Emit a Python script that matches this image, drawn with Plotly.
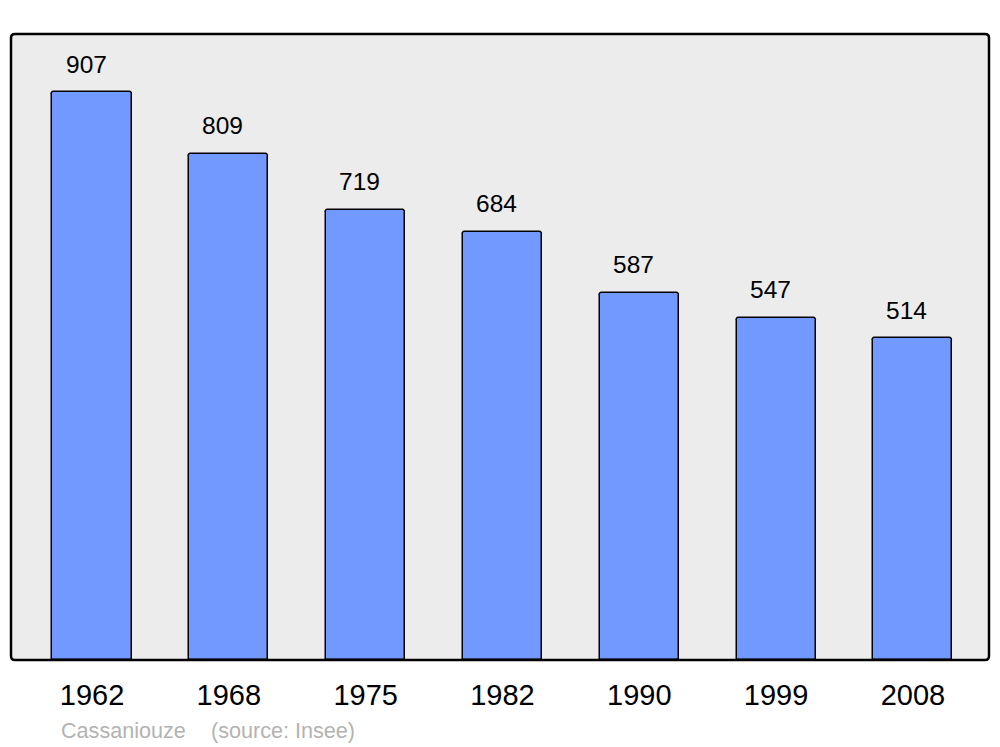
import plotly.graph_objects as go

years = ["1962", "1968", "1975", "1982", "1990", "1999", "2008"]
population = [907, 809, 719, 684, 587, 547, 514]
commune = "Cassaniouze"
source = "(source: Insee)"

W, H = 1000, 747
ml, mr, mt, mb = 11, 11, 34, 87
pw, ph = W - ml - mr, H - mt - mb
FONT = "Liberation Sans, Arial, sans-serif"

xs = list(range(len(years)))

fig = go.Figure()
fig.add_trace(go.Bar(
    x=xs, y=population, width=0.578,
    marker=dict(color="#7299ff", line=dict(color="#000000", width=1.5), cornerradius=3),
    hoverinfo="skip",
))

for i, v in zip(xs, population):
    fig.add_annotation(x=i, y=v, text=str(v), showarrow=False, xanchor="center",
                       yanchor="middle", yshift=28, xshift=-6,
                       font=dict(family=FONT, size=24.5, color="#000000"))

fig.add_annotation(x=(59 - ml) / pw, y=-(730 - (H - mb)) / ph, xref="paper", yref="paper",
                   text=commune + "\u2003\u2006" + source, showarrow=False, xanchor="left", yanchor="middle",
                   font=dict(family=FONT, size=21.6, color="#b3b3b3"))

# rounded plot-area border
r = 4
rx, ry = r / pw, r / ph
path = (f"M {rx},0 L {1-rx},0 Q 1,0 1,{ry} L 1,{1-ry} Q 1,1 {1-rx},1 "
        f"L {rx},1 Q 0,1 0,{1-ry} L 0,{ry} Q 0,0 {rx},0 Z")
fig.add_shape(type="path", path=path, xref="paper", yref="paper",
              line=dict(color="#000000", width=2.5), layer="above")

fig.update_layout(
    width=W, height=H,
    margin=dict(l=ml, r=mr, t=mt, b=mb),
    paper_bgcolor="#ffffff", plot_bgcolor="#ececec",
    showlegend=False,
    bargap=0,
    xaxis=dict(range=[-0.592, 6.556], tickmode="array", tickvals=xs, ticktext=years,
               showgrid=False, zeroline=False, showline=False, ticks="",
               ticklabelstandoff=15,
               tickfont=dict(family=FONT, size=29, color="#000000"),
               fixedrange=True),
    yaxis=dict(range=[0, 1000], showgrid=False, zeroline=False, showline=False,
               showticklabels=False, ticks="", fixedrange=True),
)

fig.write_html("out.html", config={"displayModeBar": False},
               post_script="document.body.style.margin='0';document.body.style.overflow='hidden';")
